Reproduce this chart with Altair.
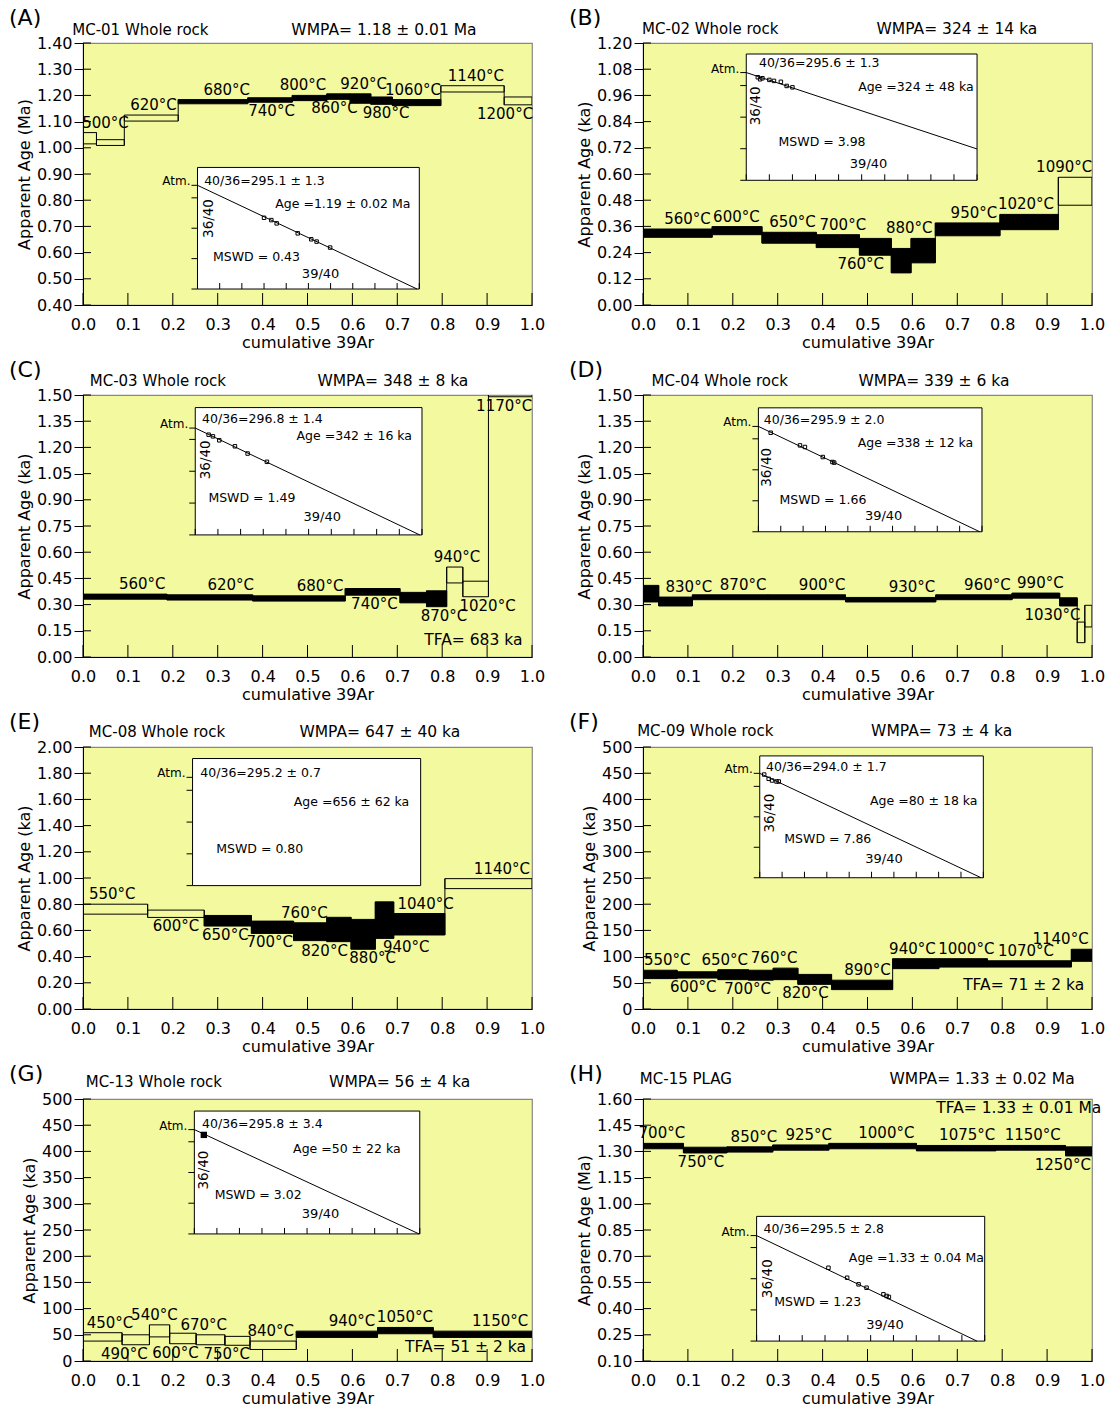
import altair as alt
import pandas as pd

FONT = "DejaVu Sans"
YELLOW = "#F3F99F"
W, H = 449, 262

X_TICKS = [0.0, 0.1, 0.2, 0.3, 0.4, 0.5, 0.6, 0.7, 0.8, 0.9, 1.0]
INSET_XTICKS = [0.0, 0.1, 0.2, 0.3, 0.4, 0.5, 0.6, 0.7, 0.8, 0.9, 1.0]
INSET_YTICKS = [0.0, 0.25, 0.5, 0.75]

# ---------------- (A) MC-01 ----------------
A_cum = [0.0, 0.030, 0.092, 0.212, 0.367, 0.466, 0.543, 0.595, 0.641, 0.689, 0.797, 0.938, 1.0]
A_lo = [1.015, 1.009, 1.102, 1.168, 1.174, 1.180, 1.185, 1.170, 1.166, 1.161, 1.213, 1.164]
A_hi = [1.058, 1.031, 1.125, 1.184, 1.191, 1.200, 1.206, 1.206, 1.194, 1.184, 1.237, 1.194]
A_fill = [0, 0, 0, 1, 1, 1, 1, 1, 1, 1, 0, 0]
A_temp = ["500°C", "", "620°C", "680°C", "740°C", "800°C", "860°C", "920°C", "980°C", "1060°C", "1140°C", "1200°C"]
A_side = ["up", "up", "up", "up", "down", "up", "down", "up", "down", "up", "up", "down"]
A_yticks = [0.40, 0.50, 0.60, 0.70, 0.80, 0.90, 1.00, 1.10, 1.20, 1.30, 1.40]
A_iso_x = [0.30, 0.333, 0.357, 0.452, 0.513, 0.537, 0.598]
A_iso_y = [0.586, 0.567, 0.540, 0.458, 0.409, 0.390, 0.341]
A_iso_line = [0.0, 0.853, 0.99, 0.0]

# ---------------- (B) MC-02 ----------------
B_cum = [0.0, 0.154, 0.265, 0.386, 0.482, 0.553, 0.597, 0.651, 0.795, 0.925, 1.0]
B_lo = [0.310, 0.322, 0.283, 0.263, 0.228, 0.147, 0.193, 0.317, 0.345, 0.457]
B_hi = [0.348, 0.359, 0.333, 0.322, 0.305, 0.259, 0.305, 0.376, 0.415, 0.585]
B_fill = [1, 1, 1, 1, 1, 1, 1, 1, 1, 0]
B_temp = ["560°C", "600°C", "650°C", "700°C", "760°C", "", "880°C", "950°C", "1020°C", "1090°C"]
B_side = ["up", "up", "up", "up", "down", "up", "up", "up", "up", "up"]
B_yticks = [0.00, 0.12, 0.24, 0.36, 0.48, 0.60, 0.72, 0.84, 0.96, 1.08, 1.20]
B_iso_x = [0.05, 0.06, 0.07, 0.10, 0.12, 0.15, 0.175, 0.20]
B_iso_y = [0.816, 0.800, 0.808, 0.795, 0.787, 0.780, 0.747, 0.736]
B_iso_line = [0.0, 0.853, 1.0, 0.248]

# ---------------- (C) MC-03 ----------------
C_cum = [0.0, 0.187, 0.378, 0.584, 0.706, 0.765, 0.810, 0.846, 0.903, 1.0]
C_lo = [0.331, 0.326, 0.320, 0.354, 0.310, 0.288, 0.424, 0.345, 1.49]
C_hi = [0.360, 0.356, 0.350, 0.392, 0.370, 0.379, 0.515, 0.434, 2.60]
C_fill = [1, 1, 1, 1, 1, 1, 0, 0, 0]
C_temp = ["560°C", "620°C", "680°C", "740°C", "", "870°C", "940°C", "1020°C", "1170°C"]
C_side = ["up", "up", "up", "down", "up", "down", "up", "down", "down"]
C_yticks = [0.00, 0.15, 0.30, 0.45, 0.60, 0.75, 0.90, 1.05, 1.20, 1.35, 1.50]
C_iso_x = [0.059, 0.078, 0.106, 0.175, 0.231, 0.316]
C_iso_y = [0.787, 0.774, 0.743, 0.696, 0.639, 0.574]
C_iso_line = [0.0, 0.839, 0.99, 0.0]

# ---------------- (D) MC-04 ----------------
D_cum = [0.0, 0.035, 0.110, 0.278, 0.451, 0.652, 0.822, 0.928, 0.967, 0.984, 1.0]
D_lo = [0.315, 0.292, 0.328, 0.328, 0.315, 0.328, 0.337, 0.292, 0.082, 0.172]
D_hi = [0.410, 0.343, 0.356, 0.356, 0.341, 0.356, 0.366, 0.339, 0.200, 0.296]
D_fill = [1, 1, 1, 1, 1, 1, 1, 1, 0, 0]
D_temp = ["", "830°C", "870°C", "900°C", "930°C", "960°C", "990°C", "1030°C", "", ""]
D_side = ["up", "up", "up", "up", "up", "up", "up", "down", "up", "up"]
D_yticks = [0.00, 0.15, 0.30, 0.45, 0.60, 0.75, 0.90, 1.05, 1.20, 1.35, 1.50]
D_iso_x = [0.055, 0.186, 0.208, 0.288, 0.331, 0.339]
D_iso_y = [0.799, 0.697, 0.684, 0.603, 0.563, 0.558]
D_iso_line = [0.0, 0.85, 0.99, 0.0]

# ---------------- (E) MC-08 ----------------
E_cum = [0.0, 0.144, 0.270, 0.375, 0.469, 0.543, 0.597, 0.651, 0.692, 0.806, 1.0]
E_lo = [0.724, 0.699, 0.633, 0.577, 0.522, 0.514, 0.456, 0.539, 0.565, 0.919]
E_hi = [0.800, 0.755, 0.714, 0.671, 0.658, 0.700, 0.684, 0.818, 0.729, 0.995]
E_fill = [0, 0, 1, 1, 1, 1, 1, 1, 1, 0]
E_temp = ["550°C", "600°C", "650°C", "700°C", "760°C", "820°C", "880°C", "940°C", "1040°C", "1140°C"]
E_side = ["up", "down", "down", "down", "up", "down", "down", "down", "up", "up"]
E_yticks = [0.00, 0.20, 0.40, 0.60, 0.80, 1.00, 1.20, 1.40, 1.60, 1.80, 2.00]
E_iso_x = []
E_iso_y = []
E_iso_line = [0.0, 0.852]

# ---------------- (F) MC-09 ----------------
F_cum = [0.0, 0.076, 0.167, 0.235, 0.290, 0.345, 0.420, 0.556, 0.659, 0.767, 0.954, 1.0]
F_lo = [58, 59, 56, 55, 56, 47, 37, 77, 80, 80, 91]
F_hi = [74, 71, 75, 74, 78, 66, 55, 96, 96, 92, 114]
F_fill = [1, 1, 1, 1, 1, 1, 1, 1, 1, 1, 1]
F_temp = ["550°C", "600°C", "650°C", "700°C", "760°C", "820°C", "890°C", "940°C", "1000°C", "1070°C", "1140°C"]
F_side = ["up", "down", "up", "down", "up", "down", "up", "up", "up", "up", "up"]
F_yticks = [0, 50, 100, 150, 200, 250, 300, 350, 400, 450, 500]
F_iso_x = [0.02, 0.04, 0.055, 0.075, 0.085]
F_iso_y = [0.847, 0.812, 0.798, 0.790, 0.790]
F_iso_line = [0.0, 0.857, 0.99, 0.0]

# ---------------- (G) MC-13 ----------------
G_cum = [0.0, 0.087, 0.148, 0.193, 0.252, 0.316, 0.372, 0.475, 0.656, 0.780, 1.0]
G_lo = [38, 31, 46, 33, 31, 30, 22, 45, 52, 45]
G_hi = [54, 50, 69, 53, 50, 47, 38, 57, 64, 57]
G_fill = [0, 0, 0, 0, 0, 0, 0, 1, 1, 1]
G_temp = ["450°C", "490°C", "540°C", "600°C", "670°C", "750°C", "840°C", "940°C", "1050°C", "1150°C"]
G_side = ["up", "down", "up", "down", "up", "down", "up", "up", "up", "up"]
G_yticks = [0, 50, 100, 150, 200, 250, 300, 350, 400, 450, 500]
G_iso_x = [0.042]
G_iso_y = [0.806]
G_iso_line = [0.0, 0.849, 0.997, 0.0]

# ---------------- (H) MC-15 ----------------
H_cum = [0.0, 0.090, 0.187, 0.289, 0.414, 0.609, 0.786, 0.941, 1.0]
H_lo = [1.315, 1.291, 1.296, 1.307, 1.315, 1.303, 1.307, 1.274]
H_hi = [1.346, 1.324, 1.326, 1.337, 1.346, 1.334, 1.334, 1.326]
H_fill = [1, 1, 1, 1, 1, 1, 1, 1]
H_temp = ["700°C", "750°C", "850°C", "925°C", "1000°C", "1075°C", "1150°C", "1250°C"]
H_side = ["up", "down", "up", "up", "up", "up", "up", "down"]
H_yticks = [0.10, 0.25, 0.40, 0.55, 0.70, 0.85, 1.00, 1.15, 1.30, 1.45, 1.60]
H_iso_x = [0.315, 0.397, 0.447, 0.482, 0.556, 0.570, 0.580]
H_iso_y = [0.588, 0.508, 0.455, 0.428, 0.375, 0.362, 0.354]
H_iso_line = [0.0, 0.846, 0.966, 0.0]

# ---------------- texts ----------------
LETTERS = ["(A)", "(B)", "(C)", "(D)", "(E)", "(F)", "(G)", "(H)"]
SAMPLES = ["MC-01  Whole rock", "MC-02  Whole rock", "MC-03  Whole rock", "MC-04  Whole rock",
           "MC-08 Whole rock", "MC-09 Whole rock", "MC-13 Whole rock", "MC-15 PLAG"]
WMPA = ["WMPA= 1.18 ± 0.01 Ma", "WMPA= 324 ± 14 ka", "WMPA= 348 ± 8 ka", "WMPA= 339 ± 6 ka",
        "WMPA= 647 ± 40 ka", "WMPA= 73 ± 4 ka", "WMPA= 56 ± 4 ka", "WMPA= 1.33 ± 0.02 Ma"]
TFA = ["", "", "TFA= 683 ka", "", "", "TFA= 71 ± 2 ka", "TFA= 51 ± 2 ka", "TFA= 1.33 ± 0.01 Ma"]
YTITLES = ["Apparent Age (Ma)", "Apparent Age (ka)", "Apparent Age (ka)", "Apparent Age (ka)",
           "Apparent Age (ka)", "Apparent Age (ka)", "Apparent Age (ka)", "Apparent Age (Ma)"]
YFORMATS = [".2f", ".2f", ".2f", ".2f", ".2f", "d", "d", ".2f"]
ISO_RATIO = ["40/36=295.1 ± 1.3", "40/36=295.6 ± 1.3", "40/36=296.8 ± 1.4", "40/36=295.9 ± 2.0",
             "40/36=295.2 ± 0.7", "40/36=294.0 ± 1.7", "40/36=295.8 ± 3.4", "40/36=295.5 ± 2.8"]
ISO_AGE = ["Age =1.19 ± 0.02 Ma", "Age =324 ± 48 ka", "Age =342 ± 16 ka", "Age =338 ± 12 ka",
           "Age =656 ± 62 ka", "Age =80 ± 18 ka", "Age =50 ± 22 ka", "Age =1.33 ± 0.04 Ma"]
ISO_MSWD = ["MSWD = 0.43", "MSWD = 3.98", "MSWD = 1.49", "MSWD = 1.66",
            "MSWD = 0.80", "MSWD = 7.86", "MSWD = 3.02", "MSWD = 1.23"]

# ---------------- layout (fractions of the plot area) ----------------
LAYOUT = {
    "A": dict(box=[0.255, 0.749, 0.475, 0.939], ratio=(0.03, 0.89), age=(0.96, 0.70), r36=(0.05, 0.58),
              mswd=(0.07, 0.26), r39=(0.555, 0.12), title_x=-0.024, wmpa_x=0.464, head_dy=13, tfa=None,
              lab_x=[0.05, 0, 0.157, 0.32, 0.42, 0.49, 0.56, 0.625, 0.675, 0.735, 0.875, 0.94]),
    "B": dict(box=[0.230, 0.744, 0.042, 0.524], ratio=(0.055, 0.925), age=(0.985, 0.74), r36=(0.042, 0.59),
              mswd=(0.14, 0.30), r39=(0.53, 0.13), title_x=-0.002, wmpa_x=0.52, head_dy=14, tfa=None,
              lab_x=[0.099, 0.208, 0.333, 0.445, 0.485, 0, 0.593, 0.737, 0.853, 0.938]),
    "C": dict(box=[0.250, 0.755, 0.048, 0.534], ratio=(0.03, 0.91), age=(0.956, 0.78), r36=(0.047, 0.59),
              mswd=(0.058, 0.29), r39=(0.56, 0.14), title_x=0.015, wmpa_x=0.522, head_dy=14, tfa=(0.76, 0.934),
              lab_x=[0.132, 0.329, 0.528, 0.649, 0, 0.804, 0.833, 0.901, 0.938]),
    "D": dict(box=[0.257, 0.755, 0.049, 0.522], ratio=(0.024, 0.90), age=(0.961, 0.72), r36=(0.04, 0.52),
              mswd=(0.094, 0.26), r39=(0.56, 0.13), title_x=0.019, wmpa_x=0.48, head_dy=14, tfa=None,
              lab_x=[0, 0.102, 0.223, 0.399, 0.599, 0.767, 0.885, 0.912, 0, 0]),
    "E": dict(box=[0.244, 0.752, 0.044, 0.529], ratio=(0.034, 0.89), age=(0.95, 0.66), r36=None,
              mswd=(0.104, 0.29), r39=None, title_x=0.013, wmpa_x=0.482, head_dy=15, tfa=None,
              lab_x=[0.065, 0.207, 0.317, 0.416, 0.493, 0.538, 0.645, 0.72, 0.763, 0.933]),
    "F": dict(box=[0.260, 0.758, 0.034, 0.499], ratio=(0.028, 0.905), age=(0.974, 0.63), r36=(0.047, 0.53),
              mswd=(0.11, 0.32), r39=(0.556, 0.15), title_x=-0.013, wmpa_x=0.508, head_dy=16, tfa=(0.713, 0.909),
              lab_x=[0.054, 0.112, 0.182, 0.233, 0.292, 0.362, 0.50, 0.60, 0.72, 0.853, 0.93]),
    "G": dict(box=[0.248, 0.750, 0.046, 0.515], ratio=(0.034, 0.894), age=(0.915, 0.69), r36=(0.045, 0.52),
              mswd=(0.09, 0.32), r39=(0.56, 0.16), title_x=0.006, wmpa_x=0.548, head_dy=17, tfa=(0.717, 0.948),
              lab_x=[0.06, 0.092, 0.159, 0.206, 0.269, 0.32, 0.418, 0.599, 0.717, 0.929]),
    "H": dict(box=[0.253, 0.761, 0.448, 0.924], ratio=(0.03, 0.90), age=(0.997, 0.67), r36=(0.05, 0.50),
              mswd=(0.077, 0.31), r39=(0.563, 0.13), title_x=-0.007, wmpa_x=0.549, head_dy=20, tfa=(0.653, 0.034),
              lab_x=[0.042, 0.129, 0.247, 0.369, 0.542, 0.722, 0.868, 0.935]),
}

G_ = globals()
KEYS = ["A", "B", "C", "D", "E", "F", "G", "H"]


def text_layer(txt, x, y, size=15, align="left", baseline="middle", angle=0):
    return alt.Chart(pd.DataFrame({"t": [txt]})).mark_text(
        align=align, baseline=baseline, fontSize=size, angle=angle, font=FONT, color="black"
    ).encode(x=alt.value(x), y=alt.value(y), text="t:N")


def make_panel(i, k):
    cum = G_[k + "_cum"]
    lo, hi = G_[k + "_lo"], G_[k + "_hi"]
    yt = G_[k + "_yticks"]
    lay = LAYOUT[k]
    df = pd.DataFrame({"x0": cum[:-1], "x1": cum[1:], "lo": lo, "hi": hi,
                       "fill": G_[k + "_fill"], "temp": G_[k + "_temp"], "side": G_[k + "_side"],
                       "xc": lay["lab_x"]})
    conn = pd.DataFrame({"x": cum[1:-1],
                         "y0": [min(lo[j], lo[j + 1]) for j in range(len(lo) - 1)],
                         "y1": [max(hi[j], hi[j + 1]) for j in range(len(lo) - 1)]})

    xs = alt.Scale(domain=[0, 1], nice=False, zero=False)
    ys = alt.Scale(domain=[yt[0], yt[-1]], nice=False, zero=False)
    xaxis = alt.Axis(values=X_TICKS, format=".1f", title="cumulative 39Ar", ticks=False, tickSize=0,
                     labelPadding=11, titlePadding=2, labelFlush=False, labelOverlap=False, grid=False)
    yaxis = alt.Axis(values=yt, format=YFORMATS[i], title=YTITLES[i], tickSize=9, labelPadding=2,
                     titlePadding=4, labelFlush=False, labelOverlap=False, grid=False)

    def X(f):
        return alt.X(f, type="quantitative", scale=xs, axis=xaxis)

    def Y(f):
        return alt.Y(f, type="quantitative", scale=ys, axis=yaxis)

    base = alt.Chart(df)
    layers = [
        base.transform_filter("datum.fill == 0").mark_rect(
            fillOpacity=0, stroke="black", strokeWidth=1, clip=True
        ).encode(x=X("x0"), x2="x1", y=Y("lo"), y2="hi"),
        base.transform_filter("datum.fill == 1").mark_rect(
            color="black", stroke="black", strokeWidth=1, clip=True
        ).encode(x=X("x0"), x2="x1", y=Y("lo"), y2="hi"),
        alt.Chart(conn).mark_rule(color="black", strokeWidth=1, clip=True).encode(
            x=X("x"), y=Y("y0"), y2="y1"),
        base.transform_filter("datum.side == 'up' && datum.temp != ''").mark_text(
            baseline="bottom", dy=-2, fontSize=15, font=FONT, color="black"
        ).encode(x=X("xc"), y=Y("hi"), text="temp:N"),
        base.transform_filter("datum.side == 'down' && datum.temp != ''").mark_text(
            baseline="top", dy=2, fontSize=15, font=FONT, color="black"
        ).encode(x=X("xc"), y=Y("lo"), text="temp:N"),
        alt.Chart(pd.DataFrame({"v": X_TICKS})).mark_rule(color="black").encode(
            x=X("v"), y=alt.value(H), y2=alt.value(H - 12)),
        alt.Chart(pd.DataFrame({"v": yt})).mark_rule(color="black").encode(
            y=Y("v"), x=alt.value(0), x2=alt.value(8)),
        text_layer(LETTERS[i], -74, -25, size=22),
        text_layer(SAMPLES[i], W * lay["title_x"], -lay["head_dy"], size=15),
        text_layer(WMPA[i], W * lay["wmpa_x"], -lay["head_dy"], size=15.5),
    ]
    if lay["tfa"]:
        layers.append(text_layer(TFA[i], W * lay["tfa"][0], H * lay["tfa"][1], size=15.5))
    main = alt.layer(*layers)

    # ---- isochron inset ----
    bx0, bx1, by0, by1 = lay["box"]
    ixs = alt.Scale(domain=[0, 1], range=[W * bx0, W * bx1], nice=False, zero=False)
    iys = alt.Scale(domain=[0, 1], range=[H * by1, H * by0], nice=False, zero=False)

    def IX(f):
        return alt.X(f, type="quantitative", scale=ixs, axis=None)

    def IY(f):
        return alt.Y(f, type="quantitative", scale=iys, axis=None)

    line = G_[k + "_iso_line"]
    atm = line[1]
    ins = [
        alt.Chart(pd.DataFrame({"a": [0.0], "b": [1.0]})).mark_rect(
            fill="white", stroke="black", strokeWidth=1
        ).encode(x=IX("a"), x2="b", y=IY("a"), y2="b"),
        alt.Chart(pd.DataFrame({"v": INSET_YTICKS + [atm]})).mark_rule(color="black").encode(
            y=IY("v"), x=alt.value(W * bx0), x2=alt.value(W * bx0 - 6)),
    ]
    if len(line) == 4:
        ins.append(alt.Chart(pd.DataFrame({"x0": [line[0]], "y0": [line[1]], "x1": [line[2]], "y1": [line[3]]}))
                   .mark_rule(color="black", strokeWidth=1)
                   .encode(x=IX("x0"), y=IY("y0"), x2="x1", y2="y1"))
        ins.append(alt.Chart(pd.DataFrame({"v": INSET_XTICKS})).mark_rule(color="black").encode(
            x=IX("v"), y=alt.value(H * by1), y2=alt.value(H * by1 - 6)))
    px, py = G_[k + "_iso_x"], G_[k + "_iso_y"]
    if px:
        big = len(px) == 1
        ins.append(alt.Chart(pd.DataFrame({"x": px, "y": py})).mark_point(
            shape="square", size=40 if big else 12, filled=big, color="black", strokeWidth=1, opacity=1
        ).encode(x=IX("x"), y=IY("y")))

    def itext(txt, pos, align="left", angle=0, size=12.5):
        return alt.Chart(pd.DataFrame({"t": [txt], "x": [pos[0]], "y": [pos[1]]})).mark_text(
            align=align, baseline="middle", fontSize=size, angle=angle, font=FONT, color="black"
        ).encode(x=IX("x"), y=IY("y"), text="t:N")

    ins.append(itext(ISO_RATIO[i], lay["ratio"]))
    ins.append(itext(ISO_AGE[i], lay["age"], align="right"))
    ins.append(itext(ISO_MSWD[i], lay["mswd"]))
    if lay["r36"]:
        ins.append(itext("36/40", lay["r36"], align="center", angle=270, size=13.5))
    if lay["r39"]:
        ins.append(itext("39/40", lay["r39"], align="center", size=13))
    ins.append(alt.Chart(pd.DataFrame({"t": ["Atm."], "y": [atm]})).mark_text(
        align="right", baseline="alphabetic", fontSize=12, font=FONT, color="black"
    ).encode(x=alt.value(W * bx0 - 7), y=IY("y"), text="t:N"))
    inset = alt.layer(*ins)

    return alt.layer(main, inset).resolve_scale(x="independent", y="independent").properties(width=W, height=H)


panels = [make_panel(i, k) for i, k in enumerate(KEYS)]
chart = alt.concat(*panels, columns=2, spacing={"row": 90, "column": 111}, bounds="flush").properties(
    padding={"left": 8, "top": 6, "right": 5, "bottom": 5}
).configure_view(
    fill=YELLOW, stroke="#888888", strokeWidth=1.2
).configure_axis(
    labelFont=FONT, titleFont=FONT, labelFontSize=16, titleFontSize=16, labelColor="black",
    titleColor="black", titleFontWeight="normal", domainColor="black", tickColor="black", domainWidth=1
)

chart.save("out.html", embed_options={"renderer": "svg", "actions": False})
